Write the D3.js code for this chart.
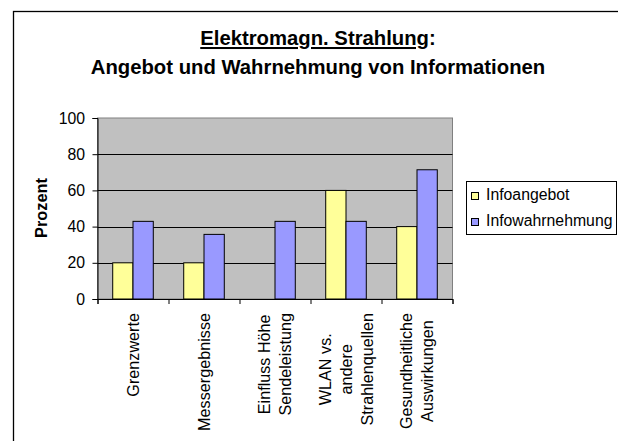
<!DOCTYPE html>
<html>
<head>
<meta charset="utf-8">
<script src="https://cdn.jsdelivr.net/npm/d3@7/dist/d3.min.js"></script>
<style>
html,body{margin:0;padding:0;background:#fff;}
svg{display:block;font-family:"Liberation Sans",Arial,sans-serif;}
</style>
</head>
<body>
<svg id="chart" width="618" height="441"></svg>
<script>
const categories = [
  ["Grenzwerte"],
  ["Messergebnisse"],
  ["Einfluss Höhe", "Sendeleistung"],
  ["WLAN vs.", "andere", "Strahlenquellen"],
  ["Gesundheitliche", "Auswirkungen"]
];
const seriesNames = ["Infoangebot", "Infowahrnehmung"];
const infoangebot = [20, 20, 0, 60, 40];
const infowahrnehmung = [42.9, 35.7, 42.9, 42.9, 71.4];
const yTicks = [0, 20, 40, 60, 80, 100];
const colors = ["#FFFF99", "#9999FF"];

(function () {
const svg = d3.select("#chart");
const fs = 15.8;
const fsCat = 16.2;

// outer border
svg.append("rect").attr("x", 13.5).attr("y", 11.5).attr("width", 620).attr("height", 450)
  .attr("fill", "#fff").attr("stroke", "#000").attr("stroke-width", 1.3);

// titles
const t1 = svg.append("text").attr("x", 318).attr("y", 45).attr("text-anchor", "middle")
  .attr("font-weight", "bold").attr("font-size", 20.3);
t1.append("tspan").attr("text-decoration", "underline").text("Elektromagn. Strahlung");
t1.append("tspan").text(":");
svg.append("text").attr("x", 318).attr("y", 74).attr("text-anchor", "middle")
  .attr("font-weight", "bold").attr("font-size", 20.3)
  .text("Angebot und Wahrnehmung von Informationen");

const pl = 97.5, pr = 452.5, pt = 118, pb = 299;
const x = d3.scaleBand().domain(d3.range(categories.length)).range([pl, pr]).paddingInner(0).paddingOuter(0);
const y = d3.scaleLinear().domain([0, 100]).range([pb, pt]);

// plot bg
svg.append("rect").attr("x", pl).attr("y", pt).attr("width", pr - pl).attr("height", pb - pt)
  .attr("fill", "#C0C0C0").attr("stroke", "#808080").attr("stroke-width", 1);

// gridlines
svg.append("g").selectAll("line").data(yTicks.filter(d => d > 0 && d < 100)).join("line")
  .attr("x1", pl).attr("x2", pr)
  .attr("y1", d => Math.round(y(d)) + 0.5).attr("y2", d => Math.round(y(d)) + 0.5)
  .attr("stroke", "#000").attr("stroke-width", 1);

// bars
const bw = x.bandwidth();
const gap = bw * 0.75 / 3.5;
const inner = d3.scaleBand().domain([0, 1]).range([gap, bw - gap]);
const seriesData = [infoangebot, infowahrnehmung];
seriesData.forEach((vals, si) => {
  svg.append("g").selectAll("rect").data(vals).join("rect")
    .attr("x", (d, i) => x(i) + inner(si))
    .attr("y", d => y(d))
    .attr("width", inner.bandwidth())
    .attr("height", d => pb - y(d))
    .attr("fill", colors[si])
    .attr("stroke", d => d > 0 ? "#000" : "none")
    .attr("stroke-width", 1);
});

// y axis
const yAxis = d3.axisLeft(y).tickValues(yTicks).tickSize(5).tickPadding(7.5);
const gy = svg.append("g").attr("transform", `translate(${pl},0)`).call(yAxis);
gy.select(".domain").attr("stroke", "#000");
gy.selectAll("text").attr("font-size", fs).attr("font-family", '"Liberation Sans",Arial,sans-serif').attr("fill", "#000");

// x axis
const xTickScale = d3.scaleLinear().domain([0, categories.length]).range([pl, pr]);
const gx = svg.append("g").attr("transform", `translate(0,${pb})`)
  .call(d3.axisBottom(xTickScale).tickValues(d3.range(categories.length + 1)).tickSize(5).tickFormat(""));
gx.select(".domain").attr("stroke", "#000");

// category labels (rotated)
const lineH = 21;
categories.forEach((lines, i) => {
  const cx = x(i) + bw / 2;
  const n = lines.length;
  const g = svg.append("g").attr("transform", `translate(${cx},313) rotate(-90)`);
  const tmp = g.append("text").attr("font-size", fsCat);
  const widths = lines.map(l => { tmp.text(l); return tmp.node().getComputedTextLength(); });
  tmp.remove();
  const maxW = d3.max(widths);
  lines.forEach((l, j) => {
    g.append("text").attr("font-size", fsCat).attr("text-anchor", "middle")
      .attr("x", -maxW / 2)
      .attr("y", (j - (n - 1) / 2) * lineH + fsCat * 0.36)
      .text(l);
  });
});

// y axis title
svg.append("text").attr("transform", "translate(47,208) rotate(-90)")
  .attr("text-anchor", "middle").attr("font-weight", "bold").attr("font-size", 16.4).text("Prozent");

// legend
const lg = svg.append("g");
lg.append("rect").attr("x", 466.5).attr("y", 181.5).attr("width", 150).attr("height", 53)
  .attr("fill", "#fff").attr("stroke", "#000").attr("stroke-width", 1);
seriesNames.forEach((s, i) => {
  const yy = 200 + i * 26;
  lg.append("rect").attr("x", 471.5).attr("y", yy - 7.5).attr("width", 7).attr("height", 7)
    .attr("fill", colors[i]).attr("stroke", "#000");
  lg.append("text").attr("x", 486).attr("y", yy).attr("font-size", fs).text(s);
});
})();
</script>
</body>
</html>
